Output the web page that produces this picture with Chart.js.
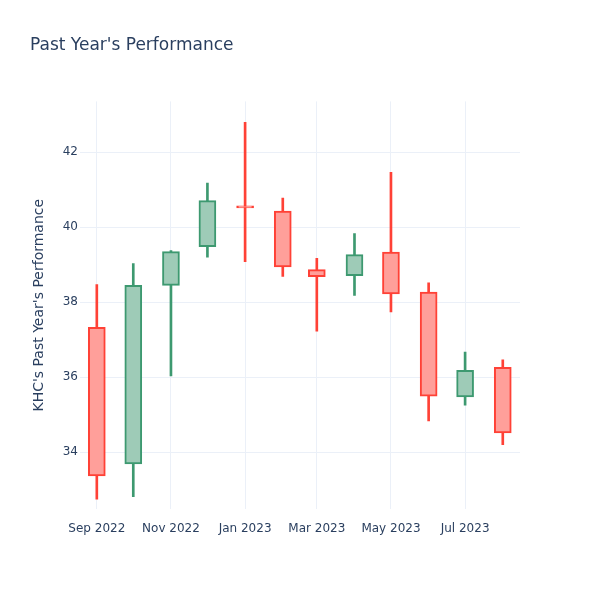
<!DOCTYPE html>
<html>
<head>
<meta charset="utf-8">
<title>Past Year's Performance</title>
<script src="https://cdn.jsdelivr.net/npm/chart.js"></script>
<style>
  html, body { margin: 0; padding: 0; background: #fff; }
  #wrap { width: 600px; height: 600px; }
</style>
</head>
<body>
<div id="wrap"><canvas id="chart" width="600" height="600"></canvas></div>
<script>
// monthly candles, one per month (first of month)
const months = ["2022-09-01", "2022-10-01", "2022-11-01", "2022-12-01", "2023-01-01", "2023-02-01",
                "2023-03-01", "2023-04-01", "2023-05-01", "2023-06-01", "2023-07-01", "2023-08-01"];
const opens  = [37.33, 33.68, 38.45, 39.48, 40.54, 40.43, 38.87, 38.71, 39.34, 38.27, 35.47, 36.26];
const highs  = [38.47, 39.03, 39.38, 41.18, 42.80, 40.78, 39.17, 39.83, 41.47, 38.52, 36.67, 36.46];
const lows   = [32.74, 32.81, 36.03, 39.20, 39.08, 38.69, 37.23, 38.18, 37.74, 34.83, 35.25, 34.20];
const closes = [33.36, 38.45, 39.35, 40.71, 40.52, 38.94, 38.68, 39.27, 38.22, 35.49, 36.18, 34.51];

const xTickDates = ["2022-09-01", "2022-11-01", "2023-01-01", "2023-03-01", "2023-05-01", "2023-07-01"];
const yTicks = [34, 36, 38, 40, 42];

const MONTH_NAMES = ["Jan", "Feb", "Mar", "Apr", "May", "Jun", "Jul", "Aug", "Sep", "Oct", "Nov", "Dec"];
const UP_LINE = "#3D9970", UP_FILL = "#9ecbb7";
const DOWN_LINE = "#FF4136", DOWN_FILL = "#ff9f9a";
const TEXT = "#2a3f5f";
const GRID = "#ebf0f8";

const ts = (s) => Date.parse(s + "T00:00:00Z");
const isUp = months.map((m, i) => closes[i] >= opens[i]);

const bodies = months.map((m, i) => ({ x: ts(m), y: [opens[i], closes[i]] }));
const wicks = months.map((m, i) => ({ x: ts(m), y: [lows[i], highs[i]] }));

Chart.defaults.font.family = "'DejaVu Sans', Verdana, sans-serif";
Chart.defaults.color = TEXT;

new Chart(document.getElementById("chart"), {
  type: "bar",
  data: {
    datasets: [
      {
        label: "body",
        data: bodies,
        grouped: false,
        order: 0,
        barThickness: 17,
        minBarLength: 2,
        borderWidth: 2,
        borderSkipped: false,
        backgroundColor: isUp.map((u) => (u ? UP_FILL : DOWN_FILL)),
        borderColor: isUp.map((u) => (u ? UP_LINE : DOWN_LINE)),
      },
      {
        label: "wick",
        data: wicks,
        grouped: false,
        order: 1,
        barThickness: 2,
        borderWidth: 0,
        backgroundColor: isUp.map((u) => (u ? UP_LINE : DOWN_LINE)),
      },
    ],
  },
  options: {
    responsive: false,
    animation: false,
    events: [],
    layout: { padding: { left: 30, right: 80, top: 0, bottom: 0 } },
    plugins: {
      legend: { display: false },
      tooltip: { enabled: false },
      title: {
        display: true,
        text: "Past Year's Performance",
        align: "start",
        color: TEXT,
        font: { size: 17, weight: "normal" },
        padding: { top: 35, bottom: 46 },
      },
    },
    scales: {
      x: {
        type: "linear",
        offset: false,
        min: Date.UTC(2022, 7, 18, 4),
        max: Date.UTC(2023, 7, 15, 4),
        grid: { color: GRID, drawTicks: false, offset: false },
        border: { display: false },
        afterBuildTicks: (scale) => {
          scale.ticks = xTickDates.map((d) => ({ value: ts(d) }));
        },
        afterFit: (scale) => { scale.height = 91; },
        ticks: {
          padding: 13,
          maxRotation: 0,
          autoSkip: false,
          font: { size: 12 },
          color: TEXT,
          callback: (v) => {
            const d = new Date(v);
            return MONTH_NAMES[d.getUTCMonth()] + " " + d.getUTCFullYear();
          },
        },
      },
      y: {
        type: "linear",
        min: 32.48,
        max: 43.36,
        grid: { color: GRID, drawTicks: false },
        border: { display: false },
        afterBuildTicks: (scale) => {
          scale.ticks = yTicks.map((v) => ({ value: v }));
        },
        afterFit: (scale) => { scale.width = 50; },
        ticks: { padding: 2, font: { size: 12 }, color: TEXT },
        title: {
          display: true,
          text: "KHC's Past Year's Performance",
          color: TEXT,
          font: { size: 14 },
          padding: { top: 1, bottom: 0 },
        },
      },
    },
  },
});
</script>
</body>
</html>
